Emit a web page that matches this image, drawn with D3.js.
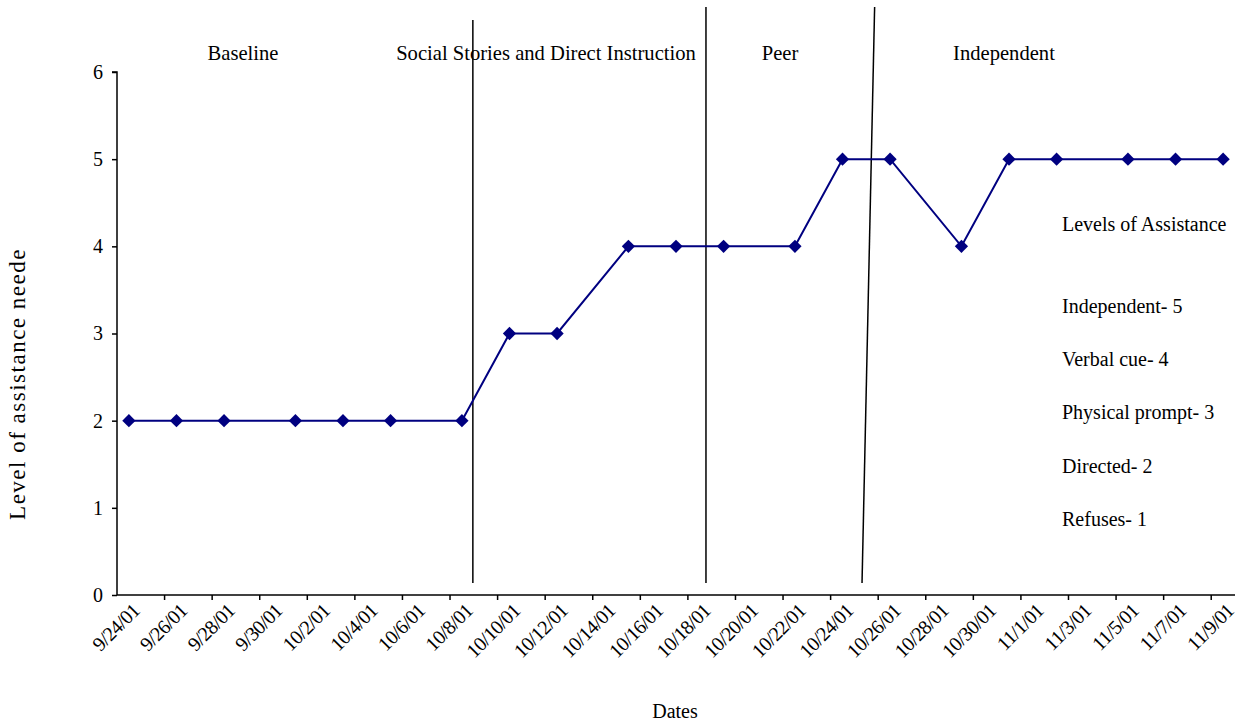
<!DOCTYPE html>
<html>
<head>
<meta charset="utf-8">
<script src="https://cdn.jsdelivr.net/npm/d3@7"></script>
<style>
  body { margin: 0; background: #fff; }
  svg text { font-family: "Liberation Serif", "Times New Roman", serif; fill: #000; }
</style>
</head>
<body>
<svg id="chart"></svg>
<script>
const width = 1246;
const height = 726;

// observation dates and level of assistance
const dates = ["9/24/01", "9/26/01", "9/28/01", "10/1/01", "10/3/01", "10/5/01", "10/8/01",
    "10/10/01", "10/12/01", "10/15/01", "10/17/01", "10/19/01", "10/22/01", "10/24/01",
    "10/26/01", "10/29/01", "10/31/01", "11/2/01", "11/5/01", "11/7/01", "11/9/01"];
const levels = [2, 2, 2, 2, 2, 2, 2, 3, 3, 4, 4, 4, 4, 5, 5, 4, 5, 5, 5, 5, 5];

const yTicks = [0, 1, 2, 3, 4, 5, 6];
const phaseNames = ["Baseline", "Social Stories and Direct Instruction", "Peer", "Independent"];
const legendTitle = "Levels of Assistance";
const legendItems = ["Independent- 5", "Verbal cue- 4", "Physical prompt- 3", "Directed- 2", "Refuses- 1"];

const parseDate = d3.utcParse("%m/%d/%y");
const fmtDate = d3.utcFormat("%-m/%-d/%y");

const margin = { left: 117, right: 11, top: 72, bottom: 131 };
const x0 = margin.left, x1 = width - margin.right;
const yTop = margin.top, yBot = height - margin.bottom;

const startDay = parseDate("9/24/01");
const endDay = d3.utcDay.offset(parseDate("11/9/01"), 1);

const x = d3.scaleUtc().domain([startDay, endDay]).range([x0, x1]);
const y = d3.scaleLinear().domain([0, 6]).range([yBot, yTop]);

const svg = d3.select("#chart").attr("width", width).attr("height", height);

const points = dates.map((d, i) => ({ date: parseDate(d), value: levels[i] }));
// points sit in the middle of their day
const px = d => x(d3.utcHour.offset(d.date, 12));

// y axis
const yAxis = svg.append("g").attr("transform", `translate(${x0},0)`)
    .call(d3.axisLeft(y).tickValues(yTicks).tickSize(5).tickPadding(9).tickFormat(d3.format("d")));
yAxis.attr("font-family", null);
yAxis.selectAll("text").style("font-size", "20px");
yAxis.selectAll("path, line").attr("stroke", "#000").attr("stroke-width", 1.5);
yAxis.select(".domain").attr("d", `M-5,${y(6)}H0V${y(0)}`);

// x axis: a tick every 2 days, labels centred on each 2-day interval
const tickDates = d3.utcDay.range(startDay, endDay, 2);
const xAxis = svg.append("g").attr("transform", `translate(0,${yBot})`);
xAxis.append("line")
    .attr("x1", x0).attr("x2", x1)
    .attr("stroke", "#000").attr("stroke-width", 1.5);
xAxis.selectAll(".tick")
    .data(tickDates.slice(1))
    .join("line")
    .attr("class", "tick")
    .attr("x1", d => x(d)).attr("x2", d => x(d))
    .attr("y1", 0).attr("y2", 5)
    .attr("stroke", "#000").attr("stroke-width", 1.5);
xAxis.selectAll(".lbl")
    .data(tickDates)
    .join("text")
    .attr("class", "lbl")
    .attr("text-anchor", "end")
    .style("font-size", "20px")
    .style("letter-spacing", "-0.6px")
    .attr("transform", d => `translate(${x(d3.utcDay.offset(d, 1))},${17}) rotate(-45)`)
    .text(d => fmtDate(d));

// phase change lines (drawn by hand in the original)
const phaseLines = [
    { top: 14.96, bottom: 14.96, y1: 20 },
    { top: 24.76, bottom: 24.76, y1: 7 },
    { top: 31.85, bottom: 31.32, y1: 7 }
];
const dayX = v => x0 + v * (x1 - x0) / d3.utcDay.count(startDay, endDay);
svg.append("g")
    .selectAll("line")
    .data(phaseLines)
    .join("line")
    .attr("x1", d => dayX(d.top)).attr("y1", d => d.y1)
    .attr("x2", d => dayX(d.bottom)).attr("y2", yBot - 12)
    .attr("stroke", "#000").attr("stroke-width", 1.5);

// data line + diamonds
const line = d3.line().x(px).y(d => y(d.value));
svg.append("path")
    .datum(points)
    .attr("fill", "none")
    .attr("stroke", "#000080")
    .attr("stroke-width", 2)
    .attr("d", line);

svg.append("g")
    .selectAll("path")
    .data(points)
    .join("path")
    .attr("d", d3.symbol(d3.symbolSquare, 88))
    .attr("transform", d => `translate(${px(d)},${y(d.value)}) rotate(45)`)
    .attr("fill", "#000080");

// phase titles
const phaseX = [243, 546, 780, 1004];
svg.append("g")
    .selectAll("text")
    .data(phaseNames)
    .join("text")
    .attr("x", (d, i) => phaseX[i])
    .attr("y", 60)
    .attr("text-anchor", "middle")
    .style("font-size", "20.6px")
    .text(d => d);

// legend text box
const legend = svg.append("g").attr("transform", "translate(1062,0)");
legend.append("text").attr("y", 231).style("font-size", "20px").text(legendTitle);
legend.selectAll(".item")
    .data(legendItems)
    .join("text")
    .attr("class", "item")
    .attr("y", (d, i) => 313 + i * 53.2)
    .style("font-size", "20px")
    .text(d => d);

// axis titles
svg.append("text")
    .attr("x", 675).attr("y", 718)
    .attr("text-anchor", "middle")
    .style("font-size", "20px")
    .text("Dates");

svg.append("text")
    .attr("transform", "translate(25,384) rotate(-90)")
    .attr("text-anchor", "middle")
    .style("font-size", "23px")
    .style("letter-spacing", "1.5px")
    .text("Level of assistance neede");
</script>
</body>
</html>
